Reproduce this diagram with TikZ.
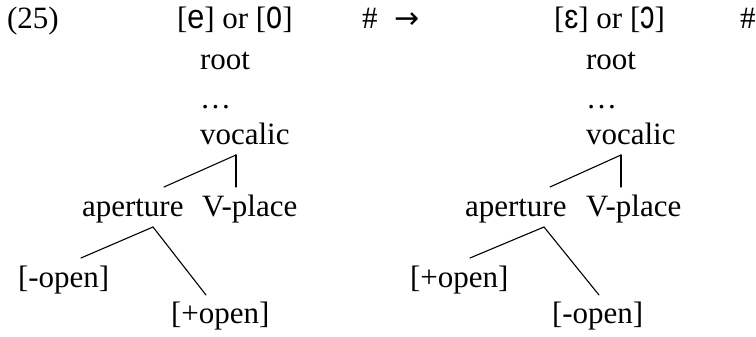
\documentclass[tikz,border=0pt]{standalone}
\usepackage{fontspec}
\setmainfont{Liberation Serif}
\newfontfamily\ipafont[FakeStretch=0.9]{Liberation Sans}
\newfontfamily\ipatall[FakeStretch=0.72]{Liberation Sans}
\newfontfamily\arrowfont{DejaVu Sans}
\usetikzlibrary{calc}
\begin{document}
\begin{tikzpicture}[x=1pt,y=-1pt,
  txt/.style={anchor=base west, inner sep=0pt, outer sep=0pt, font=\fontsize{31}{37}\selectfont},
  branch/.style={line width=1.1pt, line cap=round}]
\useasboundingbox (0,0) rectangle (756,337);
% header
\node[txt] (num) at (7,29) {(25)};
\node[txt] (inL) at (177,29) {[{\ipafont\fontsize{34}{37}\selectfont e}] or [{\ipatall\fontsize{40}{37}\selectfont o}]};
\node[txt] (hashL) at (362,29) {\#};
\node[txt] (arr) at (394,29) {{\arrowfont\fontsize{30}{36}\selectfont →}};
\node[txt] (inR) at (554,29) {[{\ipafont\fontsize{34}{37}\selectfont ɛ}] or [{\ipatall\fontsize{40}{37}\selectfont ɔ}]};
\node[txt] (hashR) at (740,29) {\#};
% left tree
\node[txt] (rootL) at (200,70) {root};
\node[txt] (dotsL) at (200,109) {…};
\node[txt] (vocL) at (200,145) {vocalic};
\node[txt] (apL) at (82,216) {aperture};
\node[txt] (vpL) at (202,216) {V-place};
\node[txt] (lfL) at (18,287) {[-open]};
\node[txt] (rtL) at (171,323) {[+open]};
% right tree
\node[txt] (rootR) at (586,70) {root};
\node[txt] (dotsR) at (586,109) {…};
\node[txt] (vocR) at (586,145) {vocalic};
\node[txt] (apR) at (465,216) {aperture};
\node[txt] (vpR) at (586,216) {V-place};
\node[txt] (lfR) at (410,287) {[+open]};
\node[txt] (rtR) at (552,323) {[-open]};
% connector ends
\coordinate (vocLb) at ($(vocL.base west)+(36,10)$);
\coordinate (apLt) at ($(apL.base west)+(82,-29)$);
\coordinate (vpLt) at ($(vpL.base west)+(34,-29)$);
\coordinate (apLb) at ($(apL.base west)+(71,11)$);
\coordinate (lfLt) at ($(lfL.base west)+(63,-29)$);
\coordinate (rtLt) at ($(rtL.base west)+(35,-28)$);
\coordinate (vocRb) at ($(vocR.base west)+(35,10)$);
\coordinate (apRt) at ($(apR.base west)+(85,-29)$);
\coordinate (vpRt) at ($(vpR.base west)+(35,-29)$);
\coordinate (apRb) at ($(apR.base west)+(79,11)$);
\coordinate (lfRt) at ($(lfR.base west)+(60,-29)$);
\coordinate (rtRt) at ($(rtR.base west)+(47,-28)$);
% branches
\draw[branch] (vocLb) -- (vpLt);
\draw[branch] (vocLb) -- (apLt);
\draw[branch] (apLb) -- (lfLt);
\draw[branch] (apLb) -- (rtLt);
\draw[branch] (vocRb) -- (vpRt);
\draw[branch] (vocRb) -- (apRt);
\draw[branch] (apRb) -- (lfRt);
\draw[branch] (apRb) -- (rtRt);
\end{tikzpicture}
\end{document}
